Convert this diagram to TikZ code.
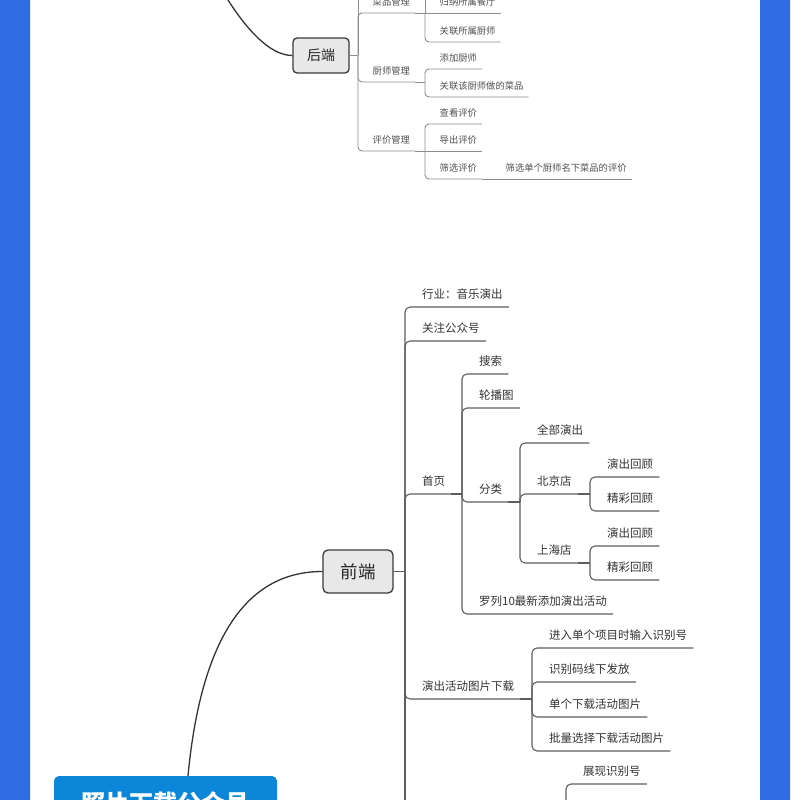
\documentclass[tikz,border=0pt]{standalone}
\usepackage{fontspec}
\setmainfont{Noto Sans CJK SC}
\usepackage{tikz}
\definecolor{sideblue}{HTML}{2F6BE3}
\definecolor{btnblue}{HTML}{0C86D9}
\definecolor{lineA}{HTML}{8C8C8C}
\definecolor{lineB}{HTML}{5E5E5E}
\definecolor{txtA}{HTML}{505050}
\definecolor{txtB}{HTML}{333333}
\definecolor{boxfill}{HTML}{E8E8E8}
\definecolor{boxdraw}{HTML}{3A3A3A}
\tikzset{
  tpA/.style={anchor=south west,inner xsep=0pt,inner ysep=7.7pt,text depth=0pt,text=txtA,
    font=\fontsize{9.3}{11}\selectfont,
    execute at begin node={\hspace*{14.5pt}},execute at end node={\hspace*{5pt}}},
  tpB/.style={anchor=south west,inner xsep=0pt,inner ysep=8.4pt,text depth=0pt,text=txtB,
    font=\fontsize{11.5}{13}\selectfont,
    execute at begin node={\hspace*{17pt}},execute at end node={\hspace*{6pt}}},
  lnA/.style={lineA,line width=0.9pt},
  lnB/.style={lineB,line width=1.1pt},
  rootbox/.style={draw=boxdraw,line width=1.3pt,fill=boxfill,rounded corners=4pt,text=black!85},
  curv/.style={black!80,line width=1.3pt}
}
\begin{document}
\begin{tikzpicture}[x=1pt,y=-1pt]
\useasboundingbox (0,0) rectangle (790,800);
\clip (0,0) rectangle (790,800);
\fill[white] (0,0) rectangle (790,800);
\fill[sideblue] (0,0) rectangle (30,800) (760,0) rectangle (790,800);

\coordinate (hroot) at (228,0);
\coordinate (hdup) at (358,-20);
\coordinate (cpup) at (425,-20);
\coordinate (qddn) at (405,830);
\coordinate (zxdn) at (566,830);

\node[rootbox,minimum width=56pt,minimum height=35pt,font=\fontsize{14}{16}\selectfont] (hd) at (321,55.5) {后端};
\node[tpA] (cp) at (358,13) {菜品管理};
\node[tpA] (gn) at (425,13) {归纳所属餐厅};
\node[tpA] (gs) at (425,42) {关联所属厨师};
\node[tpA] (cs) at (358,82) {厨师管理};
\node[tpA] (tj) at (425,69) {添加厨师};
\node[tpA] (gl) at (425,97) {关联该厨师做的菜品};
\node[tpA] (pj) at (358,151) {评价管理};
\node[tpA] (ck) at (425,124) {查看评价};
\node[tpA] (dc) at (425,151) {导出评价};
\node[tpA] (sx) at (425,179) {筛选评价};
\node[tpA] (sd) at (491,179) {筛选单个厨师名下菜品的评价};

\draw[curv] (hroot) .. controls (244,25) and (268,55.5) .. (hd.west);
\draw[lnA] (cp.south west |- hd.east) -- (hdup);
\draw[lnA] (gn.south west) -- (cpup);
\foreach \p/\c in {hd.east/cp,hd.east/cs,hd.east/pj,cp.south east/gs,
  cs.south east/tj,cs.south east/gl,pj.south east/ck,pj.south east/sx}{
  \draw[lnA] (\p) -- (\c.south west |- \p);
  \draw[lnA,rounded corners=4pt] (\c.south west |- \p) |- (\c.south east);
}
\foreach \p/\c in {cp/gn,pj/dc,sx/sd}
  \draw[lnA] (\p.south east) -- (\c.south east);

\node[rootbox,rounded corners=5pt,minimum width=70pt,minimum height=43pt,font=\fontsize{17.5}{20}\selectfont] (qd) at (358,571.5) {前端};
\node[tpB] (hy) at (405,307) {行业：音乐演出};
\node[tpB] (gz) at (405,341) {关注公众号};
\node[tpB] (sy) at (405,494) {首页};
\node[tpB] (ss) at (462,374) {搜索};
\node[tpB] (lb) at (462,408) {轮播图};
\node[tpB] (fl) at (462,502) {分类};
\node[tpB] (qb) at (520,443) {全部演出};
\node[tpB] (bj) at (520,494) {北京店};
\node[tpB] (bj1) at (590,477) {演出回顾};
\node[tpB] (bj2) at (590,511) {精彩回顾};
\node[tpB] (sh) at (520,563) {上海店};
\node[tpB] (sh1) at (590,546) {演出回顾};
\node[tpB] (sh2) at (590,580) {精彩回顾};
\node[tpB] (ll) at (462,614) {罗列10最新添加演出活动};
\node[tpB] (yc) at (405,699) {演出活动图片下载};
\node[tpB] (jr) at (532,648) {进入单个项目时输入识别号};
\node[tpB] (sb) at (532,682) {识别码线下发放};
\node[tpB] (dg) at (532,717) {单个下载活动图片};
\node[tpB] (pl) at (532,751) {批量选择下载活动图片};
\node[tpB] (zx) at (566,784) {展现识别号};

\node[fill=btnblue,rounded corners=5pt,minimum width=223pt,minimum height=54pt,text=white,
  font=\fontsize{24}{28}\selectfont\bfseries] (btn) at (165.5,803) {照片下载公众号};

\draw[curv] ([xshift=22.5pt]btn.north) .. controls (200,650) and (240,571.5) .. (qd.west);
\draw[lnB] (hy.south west |- qd.east) -- (qddn);
\draw[lnB,rounded corners=5pt] (zxdn) |- (zx.south east);
\foreach \p/\c in {qd.east/hy,qd.east/gz,qd.east/sy,qd.east/yc,
  sy.south east/ss,sy.south east/lb,sy.south east/fl,sy.south east/ll,
  fl.south east/qb,fl.south east/bj,fl.south east/sh,
  bj.south east/bj1,bj.south east/bj2,sh.south east/sh1,sh.south east/sh2,
  yc.south east/jr,yc.south east/sb,yc.south east/dg,yc.south east/pl}{
  \draw[lnB] (\p) -- (\c.south west |- \p);
  \draw[lnB,rounded corners=5pt] (\c.south west |- \p) |- (\c.south east);
}
\end{tikzpicture}
\end{document}
